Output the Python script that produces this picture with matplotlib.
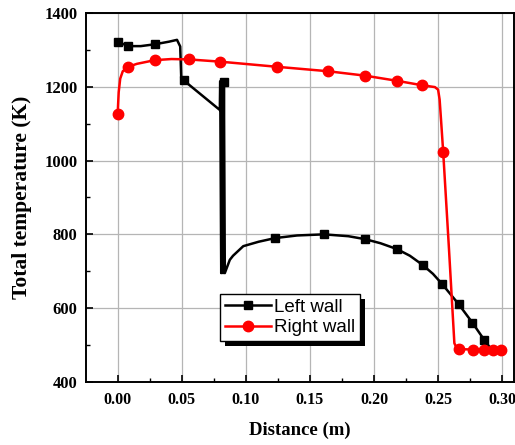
import matplotlib
matplotlib.use("Agg")
import matplotlib.pyplot as plt
from matplotlib.patches import Rectangle
from matplotlib.transforms import IdentityTransform
from matplotlib.ticker import MultipleLocator

# Left wall: curve points, markers drawn at left_marks
left_x = [0.000, 0.0083, 0.018, 0.029, 0.040, 0.0463, 0.0488, 0.0496, 0.0516,
          0.0797, 0.0800, 0.0808, 0.0815, 0.0822, 0.0829, 0.0836,
          0.0875, 0.090, 0.098, 0.110, 0.123, 0.140, 0.161, 0.180, 0.193,
          0.205, 0.218, 0.228, 0.238, 0.246, 0.253, 0.266, 0.2767, 0.286,
          0.291, 0.300]
left_y = [1322, 1310, 1310, 1315, 1322, 1327, 1309, 1223, 1217,
          1137, 1215, 695, 1215, 695, 1214, 695,
          731, 742, 768, 780, 790, 797, 800, 795, 787,
          776, 760, 742, 717, 693, 666, 611, 561, 514,
          491, 488]
left_marks = [0, 1, 3, 8, 14, 20, 22, 24, 26, 28, 30, 31, 32, 33]

# Right wall
right_x = [0.000, 0.0008, 0.002, 0.004, 0.0083, 0.015, 0.029, 0.042, 0.0555,
           0.0797, 0.1243, 0.164, 0.193, 0.218, 0.2375, 0.2475, 0.2500,
           0.2512, 0.2523, 0.254, 0.2585, 0.2627, 0.2645, 0.2665, 0.2775,
           0.2862, 0.293, 0.2994]
right_y = [1127, 1185, 1222, 1242, 1254, 1262, 1272, 1275, 1274,
           1268, 1254, 1242, 1230, 1216, 1204, 1199, 1192,
           1165, 1110, 1022, 760, 505, 492, 489, 488,
           488, 488, 488]
right_marks = [0, 4, 6, 8, 9, 10, 11, 12, 13, 14, 19, 23, 24, 25, 26, 27]

serif = "Liberation Serif"

fig = plt.figure(figsize=(5.15, 4.45), dpi=100)
ax = fig.add_axes([0.167, 0.1416, 0.831, 0.8294])

ax.plot(left_x, left_y, "-s", color="black", lw=1.8, markersize=6,
        markevery=left_marks, label="Left wall", zorder=3)
ax.plot(right_x, right_y, "-o", color="red", lw=1.8, markersize=7.5,
        markevery=right_marks, label="Right wall", zorder=4)

ax.set_xlim(-0.0247, 0.3092)
ax.set_ylim(400, 1400)
ax.xaxis.set_major_locator(MultipleLocator(0.05))
ax.xaxis.set_minor_locator(MultipleLocator(0.025))
ax.yaxis.set_major_locator(MultipleLocator(200))
ax.yaxis.set_minor_locator(MultipleLocator(100))
ax.grid(True, which="major", color="#b5b5b5", lw=0.9)
ax.set_axisbelow(True)

ax.tick_params(which="both", direction="in", top=False, right=False)
ax.tick_params(which="major", length=5, width=1.2)
ax.tick_params(which="minor", length=3, width=1.0)
ax.tick_params(axis="y", pad=6)
ax.tick_params(axis="x", pad=7)
for s in ax.spines.values():
    s.set_linewidth(1.4)

ax.set_xticklabels([f"{v:.2f}" for v in ax.get_xticks()])
for lab in ax.get_xticklabels():
    lab.set_family(serif)
    lab.set_fontweight("bold")
    lab.set_fontsize(11.5)
for lab in ax.get_yticklabels():
    lab.set_family(serif)
    lab.set_fontweight("bold")
    lab.set_fontsize(12)

ax.set_xlabel("Distance (m)", family=serif, fontweight="bold", fontsize=13.5, labelpad=10)
ax.set_ylabel("Total temperature (K)", family=serif, fontweight="bold", fontsize=15.5, labelpad=9)

leg = ax.legend(loc="upper left", bbox_to_anchor=(0.313, 0.2385), borderaxespad=0,
                fancybox=False, framealpha=1, edgecolor="black",
                handlelength=2.45, borderpad=0.25, labelspacing=0.18,
                handletextpad=0.2, prop={"family": "Liberation Sans", "size": 13.5})
leg.get_frame().set_linewidth(1.0)

# black drop shadow, offset like the original
fig.canvas.draw()
bb = leg.get_window_extent()
ax.add_patch(Rectangle((bb.x0 + 5, bb.y0 - 5), bb.width, bb.height,
                       transform=IdentityTransform(), facecolor="black",
                       edgecolor="none", zorder=4.9, clip_on=False))

fig.savefig("out.png", dpi=100)
